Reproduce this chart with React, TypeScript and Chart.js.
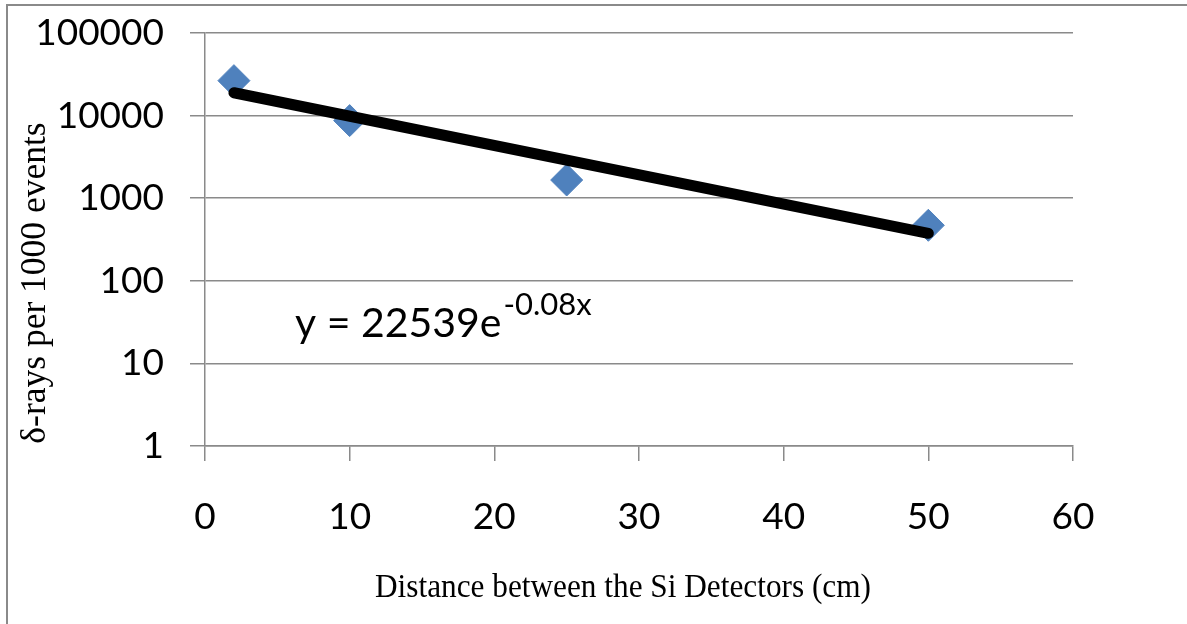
import React, { useEffect, useRef } from "react";
import { Chart, registerables } from "chart.js";

Chart.register(...registerables);

const distances = [2, 10, 25, 50];
const deltaRays = [26500, 8700, 1660, 470];
const trendX = [2, 50];
const trendY = [18900, 376];
const yTicks = [1, 10, 100, 1000, 10000, 100000];
const xTitle = "Distance between the Si Detectors (cm)";
const yTitle = "δ-rays per 1000 events";
const eqMain = "y = 22539e";
const eqSup = "-0.08x";

const TICK_FONT = "Lato";

const annotationPlugin = {
  id: "customText",
  afterDraw(chart: any) {
    const { ctx, chartArea } = chart;
    ctx.save();
    // equation
    ctx.fillStyle = "#000";
    ctx.textBaseline = "alphabetic";
    ctx.textAlign = "left";
    ctx.font = `41px ${TICK_FONT}`;
    const ex = chartArea.left + 90;
    const ey = chartArea.top + 304;
    ctx.fillText(eqMain, ex, ey);
    const w = ctx.measureText(eqMain).width;
    ctx.font = `31px ${TICK_FONT}`;
    ctx.fillText(eqSup, ex + w + 2, ey - 22);

    // x title
    ctx.font = `34px "Liberation Serif"`;
    ctx.textAlign = "center";
    ctx.textBaseline = "middle";
    ctx.save();
    ctx.translate(chartArea.left + 418, chartArea.bottom + 142);
    ctx.scale(0.92, 1);
    ctx.fillText(xTitle, 0, 0);
    ctx.restore();

    // y title
    ctx.font = `35.5px "Liberation Serif"`;
    ctx.save();
    ctx.translate(36, chartArea.top + 250);
    ctx.rotate(-Math.PI / 2);
    ctx.fillText(yTitle, 0, 0);
    ctx.restore();
    ctx.restore();
  },
};

export default function App() {
  const ref = useRef<HTMLCanvasElement | null>(null);
  useEffect(() => {
    if (!ref.current) return;
    const gridColor = "#8a8a8a";
    const chart = new Chart(ref.current, {
      type: "scatter",
      data: {
        datasets: [
          {
            label: "trend",
            data: trendX.map((x, i) => ({ x, y: trendY[i] })),
            showLine: true,
            borderColor: "#000000",
            borderWidth: 11,
            borderCapStyle: "round",
            pointRadius: 0,
            pointHoverRadius: 0,
          } as any,
          {
            label: "data",
            data: distances.map((x, i) => ({ x, y: deltaRays[i] })),
            pointStyle: "rectRot",
            pointRadius: 16,
            pointHoverRadius: 16,
            backgroundColor: "#4F81BD",
            borderColor: "#4F81BD",
            borderWidth: 1,
          } as any,
        ],
      },
      options: {
        animation: false,
        responsive: false,
        events: [],
        layout: { padding: { top: 33, right: 114, left: 0, bottom: 0 } },
        plugins: {
          legend: { display: false },
          tooltip: { enabled: false },
          title: { display: false },
        },
        scales: {
          x: {
            type: "linear",
            min: 0,
            max: 60,
            ticks: {
              stepSize: 10,
              color: "#000",
              font: { family: TICK_FONT, size: 37 },
              padding: 34,
            },
            grid: {
              drawOnChartArea: false,
              drawTicks: true,
              tickLength: 15,
              color: gridColor,
              lineWidth: 1.5,
            },
            border: { display: true, color: gridColor, width: 1.5 },
            afterFit: (s: any) => {
              s.height = 624 - 446;
              s.paddingLeft = 0;
              s.paddingRight = 0;
            },
          },
          y: {
            type: "logarithmic",
            min: 1,
            max: 100000,
            afterBuildTicks: (s: any) => {
              s.ticks = yTicks.map((v) => ({ value: v }));
            },
            ticks: {
              color: "#000",
              font: { family: TICK_FONT, size: 37 },
              padding: 26,
              callback: (v: any) => String(v),
            },
            grid: {
              drawTicks: true,
              tickLength: 15,
              color: gridColor,
              lineWidth: 1.5,
            },
            border: { display: true, color: gridColor, width: 1.5 },
            afterFit: (s: any) => {
              s.width = 205;
              s.paddingTop = 0;
              s.paddingBottom = 0;
            },
          },
        },
      },
      plugins: [annotationPlugin],
    });
    return () => chart.destroy();
  }, []);

  return (
    <div
      style={{
        position: "fixed",
        left: 0,
        top: 0,
        width: 1187,
        height: 624,
        overflow: "hidden",
        background: "#fff",
      }}
    >
      <div
        style={{
          position: "absolute",
          left: 6,
          top: 4,
          width: 1300,
          height: 800,
          borderLeft: "2px solid #8a8a8a",
          borderTop: "2px solid #8a8a8a",
        }}
      />
      <canvas
        ref={ref}
        width={1187}
        height={624}
        style={{ position: "absolute", left: 0, top: 0, width: 1187, height: 624 }}
      />
    </div>
  );
}
